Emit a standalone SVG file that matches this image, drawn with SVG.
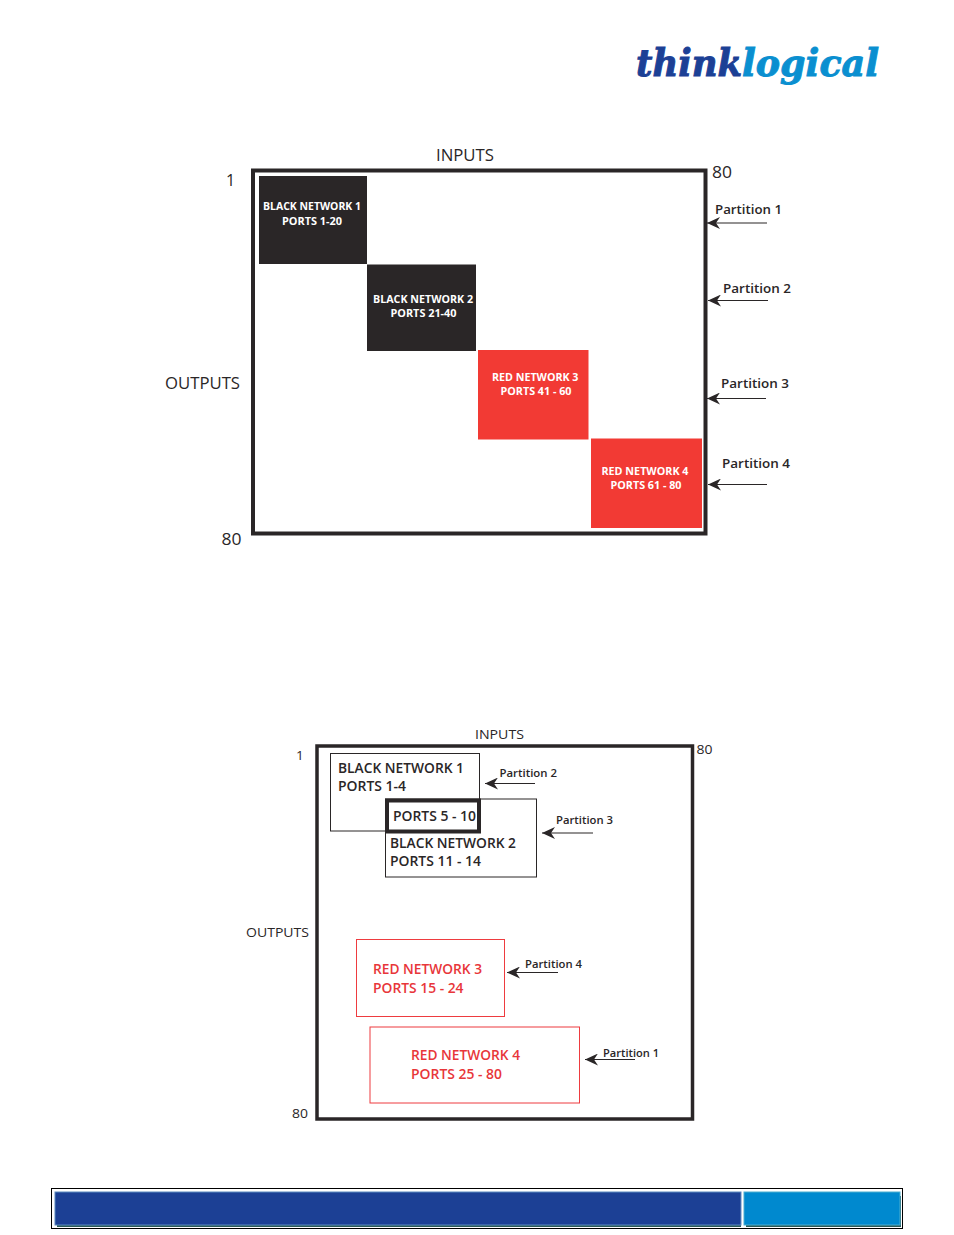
<svg xmlns="http://www.w3.org/2000/svg" width="954" height="1235" viewBox="0 0 954 1235">
<style>
text{font-family:"Open Sans","Noto Sans",sans-serif;fill:#2a2627}
.frame{fill:none;stroke:#2a2627;stroke-width:4}
.lab{font-size:16px}
.lab2{font-size:13.5px}
.part{font-size:13px;font-weight:600}
.part2{font-size:11.5px;font-weight:600}
.w{fill:#fff;font-size:10.5px;font-weight:700}
.k{font-size:14.5px;font-weight:600}
.r{font-size:14px;font-weight:600;fill:#e8363a}
.bl{fill:none;stroke:#2a2627;stroke-width:1}
.rd{fill:none;stroke:#ee3b3f;stroke-width:1}
.ar{fill:none;stroke:#2a2627;stroke-width:1.2}
.logo{font-family:"DejaVu Serif",serif;font-size:38px;font-weight:700;font-style:italic;stroke-width:1}
</style>
<defs>
<marker id="a" markerWidth="14" markerHeight="12" refX="13" refY="6" orient="auto" markerUnits="userSpaceOnUse" viewBox="0 0 14 12"><path d="M13 6L0 0L4 6L0 12Z" fill="#2a2627"/></marker>
</defs>
<g id="logo">
<text class="logo" x="636" y="76" textLength="106" lengthAdjust="spacingAndGlyphs" style="fill:#1c4095;stroke:#1c4095">think</text>
<text class="logo" x="742" y="76" textLength="137" lengthAdjust="spacingAndGlyphs" style="fill:#0a8fd0;stroke:#0a8fd0">logical</text>
</g>
<g id="matrix-1">
<rect class="frame" x="253" y="170.500" width="452.500" height="363"/>
<text class="lab" x="436" y="160.500" textLength="58" lengthAdjust="spacingAndGlyphs">INPUTS</text>
<text class="lab" x="712" y="177.500" textLength="20" lengthAdjust="spacingAndGlyphs">80</text>
<text class="lab" x="226" y="186">1</text>
<text class="lab" x="165" y="388.500" textLength="75" lengthAdjust="spacingAndGlyphs">OUTPUTS</text>
<text class="lab" x="221.500" y="544.500" textLength="20" lengthAdjust="spacingAndGlyphs">80</text>
</g>
<g id="black-network-1"><rect x="259" y="176" width="108" height="88" fill="#2a2627"/>
<text class="w" x="263" y="210" textLength="98" lengthAdjust="spacingAndGlyphs">BLACK NETWORK 1</text><text class="w" x="282" y="225" textLength="60" lengthAdjust="spacingAndGlyphs">PORTS 1-20</text></g>
<g id="black-network-2"><rect x="367" y="264.500" width="109" height="86.500" fill="#2a2627"/>
<text class="w" x="373" y="302.500" textLength="100" lengthAdjust="spacingAndGlyphs">BLACK NETWORK 2</text><text class="w" x="390.500" y="317" textLength="66" lengthAdjust="spacingAndGlyphs">PORTS 21-40</text></g>
<g id="red-network-3"><rect x="478" y="350" width="110.500" height="89.500" fill="#f23a34"/>
<text class="w" x="492" y="381" textLength="86.500" lengthAdjust="spacingAndGlyphs">RED NETWORK 3</text><text class="w" x="500.500" y="395" textLength="71" lengthAdjust="spacingAndGlyphs">PORTS 41 - 60</text></g>
<g id="red-network-4"><rect x="591" y="438.500" width="111" height="89.500" fill="#f23a34"/>
<text class="w" x="601.500" y="474.500" textLength="87" lengthAdjust="spacingAndGlyphs">RED NETWORK 4</text><text class="w" x="610.500" y="489" textLength="71" lengthAdjust="spacingAndGlyphs">PORTS 61 - 80</text></g>
<g id="partition-labels-1">
<text class="part" x="715" y="213.500" textLength="67" lengthAdjust="spacingAndGlyphs">Partition 1</text>
<text class="part" x="723" y="293" textLength="68" lengthAdjust="spacingAndGlyphs">Partition 2</text>
<text class="part" x="721" y="387.500" textLength="68" lengthAdjust="spacingAndGlyphs">Partition 3</text>
<text class="part" x="722" y="468" textLength="68" lengthAdjust="spacingAndGlyphs">Partition 4</text>
</g>
<g id="matrix-2">
<rect class="frame" x="317" y="746" width="375.500" height="373" style="stroke-width:3.5"/>
<text class="lab2" x="475" y="739" textLength="49" lengthAdjust="spacingAndGlyphs">INPUTS</text>
<text class="lab2" x="696.500" y="753.500" textLength="16" lengthAdjust="spacingAndGlyphs">80</text>
<text class="lab2" x="296" y="760">1</text>
<text class="lab2" x="246" y="937" textLength="63" lengthAdjust="spacingAndGlyphs">OUTPUTS</text>
<text class="lab2" x="292" y="1117.500" textLength="16" lengthAdjust="spacingAndGlyphs">80</text>
</g>
<g id="net2-black-1"><rect class="bl" x="330.500" y="753.500" width="149" height="77.500"/>
<text class="k" x="338" y="773" textLength="126" lengthAdjust="spacingAndGlyphs">BLACK NETWORK 1</text><text class="k" x="338" y="791" textLength="68" lengthAdjust="spacingAndGlyphs">PORTS 1-4</text></g>
<g id="net2-black-2"><rect class="bl" x="385.500" y="799" width="151" height="78"/>
<text class="k" x="390" y="848" textLength="126" lengthAdjust="spacingAndGlyphs">BLACK NETWORK 2</text><text class="k" x="390" y="866" textLength="91" lengthAdjust="spacingAndGlyphs">PORTS 11 - 14</text></g>
<g id="net2-shared"><rect x="387" y="800.500" width="92" height="31" fill="none" stroke="#2a2627" stroke-width="4"/>
<text class="k" x="393" y="821" textLength="83" lengthAdjust="spacingAndGlyphs">PORTS 5 - 10</text></g>
<g id="net2-red-3"><rect class="rd" x="356.500" y="939.500" width="148" height="77"/>
<text class="r" x="373" y="974" textLength="109" lengthAdjust="spacingAndGlyphs">RED NETWORK 3</text><text class="r" x="373" y="993" textLength="90.500" lengthAdjust="spacingAndGlyphs">PORTS 15 - 24</text></g>
<g id="net2-red-4"><rect class="rd" x="370" y="1027" width="209.500" height="76"/>
<text class="r" x="411" y="1060" textLength="109" lengthAdjust="spacingAndGlyphs">RED NETWORK 4</text><text class="r" x="411" y="1079" textLength="91" lengthAdjust="spacingAndGlyphs">PORTS 25 - 80</text></g>
<g id="partition-labels-2">
<text class="part2" x="499.500" y="777" textLength="57.500" lengthAdjust="spacingAndGlyphs">Partition 2</text>
<text class="part2" x="556" y="824" textLength="57" lengthAdjust="spacingAndGlyphs">Partition 3</text>
<text class="part2" x="525" y="968" textLength="57" lengthAdjust="spacingAndGlyphs">Partition 4</text>
<text class="part2" x="603" y="1056.500" textLength="56" lengthAdjust="spacingAndGlyphs">Partition 1</text>
</g>
<g id="connectors">
<line class="ar" x1="767" y1="223" x2="707" y2="223" marker-end="url(#a)"/>
<line class="ar" x1="768" y1="300.500" x2="708" y2="300.500" marker-end="url(#a)"/>
<line class="ar" x1="766" y1="398.500" x2="707" y2="398.500" marker-end="url(#a)"/>
<line class="ar" x1="767" y1="484.500" x2="708" y2="484.500" marker-end="url(#a)"/>
<line class="ar" x1="535" y1="783.500" x2="485" y2="783.500" marker-end="url(#a)"/>
<line class="ar" x1="593" y1="833" x2="542" y2="833" marker-end="url(#a)"/>
<line class="ar" x1="558" y1="972.500" x2="507" y2="972.500" marker-end="url(#a)"/>
<line class="ar" x1="635" y1="1059.500" x2="585" y2="1059.500" marker-end="url(#a)"/>
</g>
<g id="footer">
<rect x="51.500" y="1188.500" width="851" height="40" fill="#fff" stroke="#000" stroke-width="1"/>
<rect x="57" y="1196" width="684" height="31" fill="#2a5a58"/>
<rect x="746" y="1196" width="155" height="31" fill="#2a5a58"/>
<rect x="55" y="1192" width="686" height="33" fill="#1c4095" stroke="#5b8ac0" stroke-width="1"/>
<rect x="744" y="1192" width="156" height="33" fill="#0089cf" stroke="#4aaed0" stroke-width="1"/>
</g>
</svg>
